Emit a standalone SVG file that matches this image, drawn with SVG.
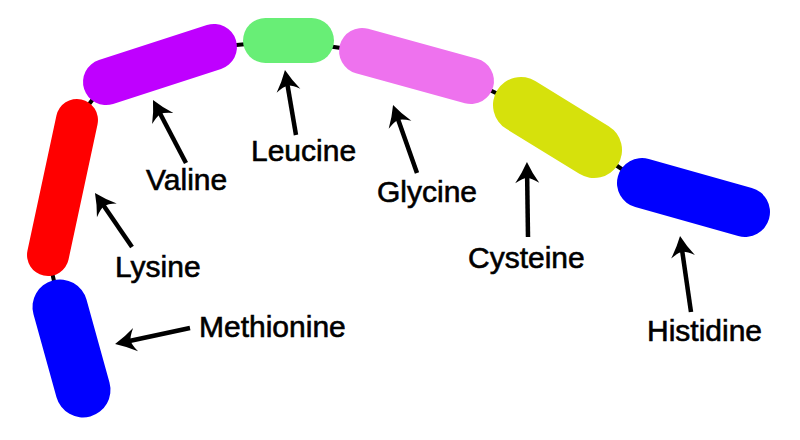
<svg xmlns="http://www.w3.org/2000/svg" width="800" height="440" viewBox="0 0 800 440">
<defs>
<style>
.lbl{font-family:"Liberation Sans",Arial,sans-serif;font-size:30px;fill:#000;stroke:#000;stroke-width:0.6}
.arr{stroke:#000;stroke-width:4.5;fill:none;marker-end:url(#ah)}
.chain{stroke:#000;stroke-width:4;fill:none;stroke-linejoin:round}
</style>
<marker id="ah" markerUnits="userSpaceOnUse" markerWidth="40" markerHeight="40" viewBox="-20 -20 40 40" refX="0" refY="0" orient="auto" overflow="visible">
<path d="M11,0 Q0,-5 -10,-12 Q-5,-4 -5,0 Q-5,4 -10,12 Q0,5 11,0 Z" fill="#000"/>
</marker>
</defs>
<rect width="800" height="440" fill="#fff"/>
<g id="connectors">
<polyline class="chain" points="71.5,348.5 60,307 48,255 77,120 106,82 214,47 288.5,40.5 362,51 471,81 521,105 594,150 642,183 693.5,197.5"/>
<line class="arr" x1="190" y1="328" x2="125.8" y2="341.7"/>
<line class="arr" x1="132" y1="247" x2="101.2" y2="202.1"/>
<line class="arr" x1="186" y1="163" x2="158.1" y2="109.7"/>
<line class="arr" x1="296" y1="135" x2="286.8" y2="80.8"/>
<line class="arr" x1="417" y1="173" x2="396.7" y2="115.4"/>
<line class="arr" x1="528" y1="237" x2="527.1" y2="173"/>
<line class="arr" x1="691" y1="312" x2="681.6" y2="246.9"/>
</g>
<g id="methionine">
<rect x="-70.6" y="-27.5" width="141.1" height="55" rx="27.5" fill="#0000ff" transform="translate(71.5,348.5) rotate(74.5)"/>
<text class="lbl" x="199" y="337">Methionine</text>
</g>
<g id="lysine">
<rect x="-90.05" y="-21" width="180.1" height="42" rx="21" fill="#ff0000" transform="translate(62.5,187.5) rotate(102.1)"/>
<text class="lbl" x="115" y="277">Lysine</text>
</g>
<g id="valine">
<rect x="-79.75" y="-23" width="159.5" height="46" rx="23" fill="#bf00ff" transform="translate(160,64.5) rotate(-17.96)"/>
<text class="lbl" x="146" y="190">Valine</text>
</g>
<g id="leucine">
<rect x="243" y="18" width="91" height="45" rx="22.5" fill="#68ee76"/>
<text class="lbl" x="251" y="161">Leucine</text>
</g>
<g id="glycine">
<rect x="-79.5" y="-23" width="159" height="46" rx="23" fill="#ee72ee" transform="translate(416.5,66) rotate(15.39)"/>
<text class="lbl" x="377" y="202">Glycine</text>
</g>
<g id="cysteine">
<rect x="-70.88" y="-28" width="141.76" height="56" rx="28" fill="#d6e10c" transform="translate(557.5,127.5) rotate(31.65)"/>
<text class="lbl" x="468" y="268">Cysteine</text>
</g>
<g id="histidine">
<rect x="-78.5" y="-25" width="157" height="50" rx="25" fill="#0000ff" transform="translate(693.5,197.5) rotate(15.72)"/>
<text class="lbl" x="647" y="341">Histidine</text>
</g>
</svg>
